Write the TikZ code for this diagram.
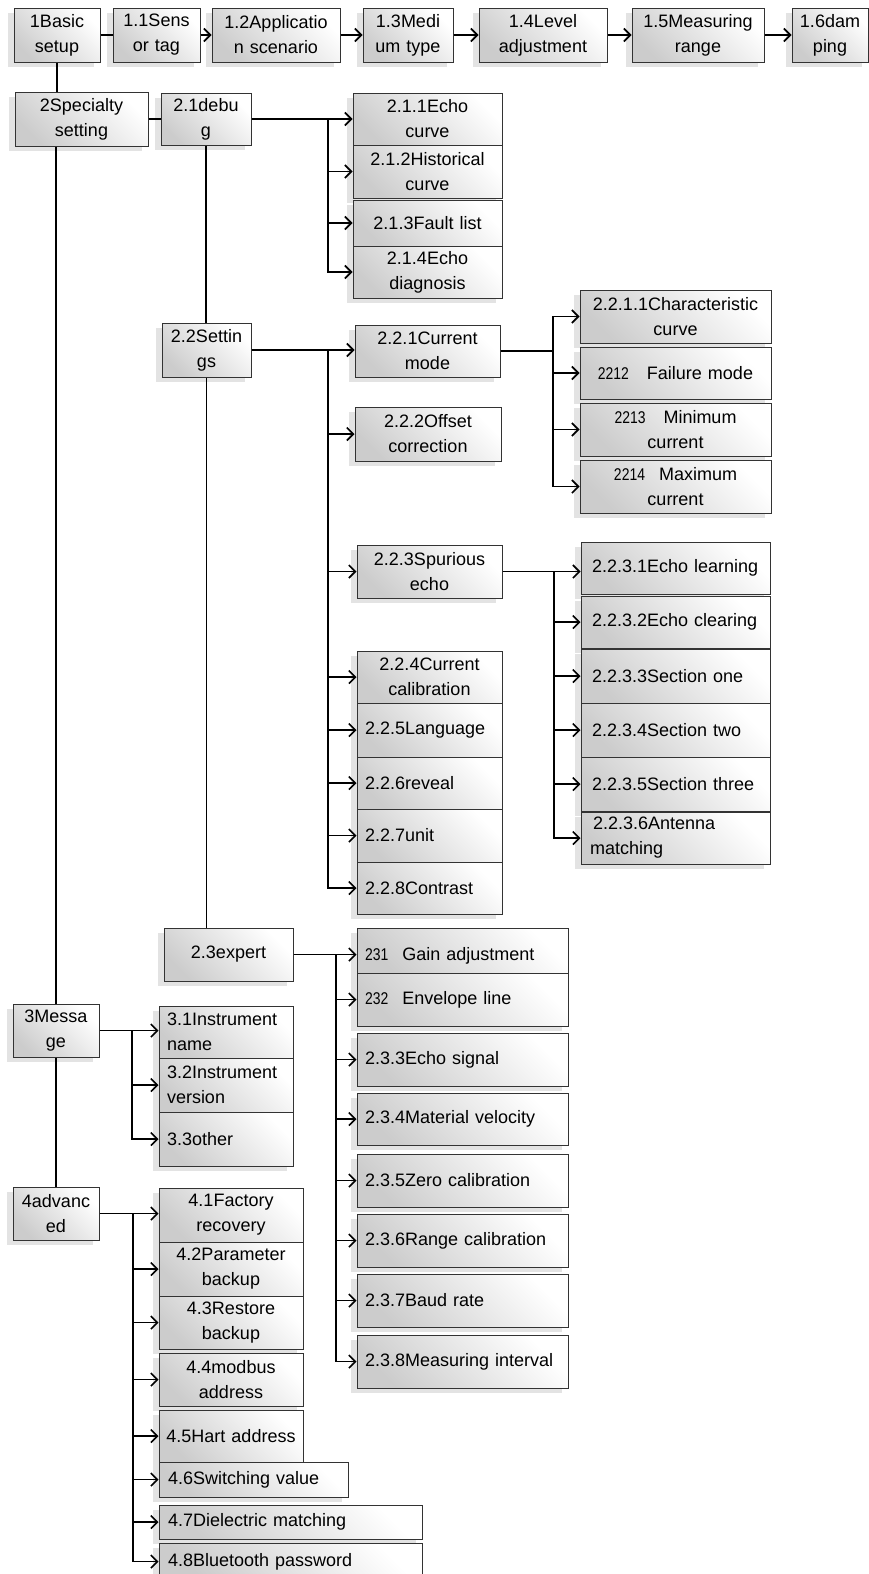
\documentclass[tikz,border=0pt]{standalone}
\usepackage{fontspec}
\setmainfont{Liberation Sans}
\usetikzlibrary{arrows.meta,shadows}
\newcommand\smallnum[1]{{\fontsize{17}{25}\selectfont\scalebox{0.82}[1]{#1}}}
\newcommand\bx[8]{%
  \pgfmathsetmacro\bw{#4-#2}\pgfmathsetmacro\bh{#5-#3}%
  \pgfmathsetmacro\bcx{(#2+#4)/2}\pgfmathsetmacro\bcy{(#3+#5)/2}%
  \pgfmathsetmacro\tw{#4-#2-2*#7}%
  \node[box, align=#6, inner xsep=#7pt, text width=\tw pt, minimum width=\bw pt, minimum height=\bh pt] (#1) at (\bcx,\bcy) {#8};}
\tikzset{
 box/.style={draw=black!80, line width=1pt, left color=gray!40, right color=white, shading angle=135,
   inner ysep=1pt, font=\fontsize{18}{25}\selectfont,
   drop shadow={shadow xshift=-6pt, shadow yshift=-5pt, opacity=1, fill=black!11}},
 ln/.style={line width=1.6pt, draw=black},
 arr/.style={-{Straight Barb[length=6.5pt,width=13pt]}},
}
\begin{document}
\begin{tikzpicture}[x=1pt,y=-1pt]
\fill[white] (0,0) rectangle (868,1574);
\useasboundingbox (0,0) rectangle (868,1574);
% level 1
\bx{n1}{14}{8}{100}{62}{center}{3}{1Basic\\setup}
\bx{n11}{113}{8}{200}{62}{center}{3}{1.1Sens\\or~tag}
\bx{n12}{212}{8}{340}{62}{center}{3}{1.2Applicatio\\n~scenario}
\bx{n13}{363}{8}{453}{62}{center}{3}{1.3Medi\\um~type}
\bx{n14}{479}{8}{607}{62}{center}{3}{1.4Level\\adjustment}
\bx{n15}{632}{8}{764}{62}{center}{3}{1.5Measuring\\range}
\bx{n16}{792}{8}{868}{62}{center}{3}{1.6dam\\ping}
% 2
\bx{n2}{15}{92}{148}{146}{center}{3}{2Specialty\\setting}
\bx{n21}{161}{93}{251}{145}{center}{3}{2.1debu\\g}
\bx{n211}{353}{93}{502}{145}{center}{3}{2.1.1Echo\\curve}
\bx{n212}{353}{145}{502}{198}{center}{3}{2.1.2Historical\\curve}
\bx{n213}{353}{200}{502}{246}{center}{3}{2.1.3Fault~list}
\bx{n214}{353}{246}{502}{298}{center}{3}{2.1.4Echo\\diagnosis}
\bx{n22}{162}{323}{251}{377}{center}{3}{2.2Settin\\gs}
\bx{n221}{355}{325}{500}{377}{center}{3}{2.2.1Current\\mode}
\bx{n222}{355}{407}{501}{461}{center}{3}{2.2.2Offset\\correction}
\bx{n223}{357}{545}{502}{598}{center}{3}{2.2.3Spurious\\echo}
\bx{n224}{357}{651}{502}{703}{center}{3}{2.2.4Current\\calibration}
\bx{n225}{357}{703}{502}{757}{left}{8}{2.2.5Language}
\bx{n226}{357}{757}{502}{809}{left}{8}{2.2.6reveal}
\bx{n227}{357}{809}{502}{862}{left}{8}{2.2.7unit}
\bx{n228}{357}{862}{502}{914}{left}{8}{2.2.8Contrast}
\bx{n2211}{580}{290}{771}{343}{center}{3}{2.2.1.1Characteristic\\curve}
\bx{n2212}{580}{347}{771}{399}{center}{3}{\smallnum{2212}\hspace{18pt}Failure~mode}
\bx{n2213}{580}{403}{771}{456}{center}{3}{\smallnum{2213}\hspace{18pt}Minimum\\current}
\bx{n2214}{580}{460}{771}{513}{center}{3}{\smallnum{2214}\hspace{14pt}Maximum\\current}
\bx{n2231}{581}{542}{770}{594}{left}{11}{2.2.3.1Echo~learning}
\bx{n2232}{581}{596}{770}{648}{left}{11}{2.2.3.2Echo~clearing}
\bx{n2233}{581}{649}{770}{703}{left}{11}{2.2.3.3Section~one}
\bx{n2234}{581}{703}{770}{757}{left}{11}{2.2.3.4Section~two}
\bx{n2235}{581}{757}{770}{811}{left}{11}{2.2.3.5Section~three}
\bx{n2236}{581}{812}{770}{864}{left}{9}{\hspace*{3pt}2.2.3.6Antenna\\matching}
\bx{n23}{164}{928}{293}{981}{center}{3}{2.3expert}
\bx{n231}{357}{928}{568}{973}{left}{8}{\rule{0pt}{23pt}\smallnum{231}\hspace{14pt}Gain~adjustment}
\bx{n232}{357}{973}{568}{1026}{left}{8}{\smallnum{232}\hspace{14pt}Envelope~line}
\bx{n233}{357}{1033}{568}{1086}{left}{8}{2.3.3Echo~signal}
\bx{n234}{357}{1093}{568}{1145}{left}{8}{2.3.4Material~velocity}
\bx{n235}{357}{1154}{568}{1207}{left}{8}{2.3.5Zero~calibration}
\bx{n236}{357}{1214}{568}{1267}{left}{8}{2.3.6Range~calibration}
\bx{n237}{357}{1274}{568}{1327}{left}{8}{2.3.7Baud~rate}
\bx{n238}{357}{1335}{568}{1388}{left}{8}{2.3.8Measuring~interval}
% 3
\bx{n3}{13}{1004}{99}{1057}{center}{3}{3Messa\\ge}
\bx{n31}{159}{1006}{293}{1058}{left}{8}{3.1Instrument\\name}
\bx{n32}{159}{1058}{293}{1112}{left}{8}{3.2Instrument\\version}
\bx{n33}{159}{1112}{293}{1166}{left}{8}{3.3other}
% 4
\bx{n4}{13}{1187}{99}{1240}{center}{3}{4advanc\\ed}
\bx{n41}{159}{1188}{303}{1242}{center}{3}{4.1Factory\\recovery}
\bx{n42}{159}{1242}{303}{1296}{center}{3}{4.2Parameter\\backup}
\bx{n43}{159}{1296}{303}{1349}{center}{3}{4.3Restore\\backup}
\bx{n44}{159}{1353}{303}{1406}{center}{3}{4.4modbus\\address}
\bx{n45}{159}{1410}{303}{1462}{center}{3}{4.5Hart~address}
\bx{n46}{159}{1462}{348}{1497}{left}{9}{4.6Switching~value}
\bx{n47}{159}{1505}{422}{1539}{left}{9}{4.7Dielectric~matching}
\bx{n48}{159}{1543}{422}{1580}{left}{9}{4.8Bluetooth~password}
% bus columns
\coordinate (b21) at (328,0);
\coordinate (b22) at (328,0);
\coordinate (b221) at (553,0);
\coordinate (b223) at (554,0);
\coordinate (b23) at (336,0);
\coordinate (b3) at (132,0);
\coordinate (b4) at (133,0);
% top row
\draw[ln] (n1.east) -- (n11.west);
\draw[ln,arr] (n11.east) -- (n12.west);
\draw[ln,arr] (n12.east) -- (n13.west);
\draw[ln,arr] (n13.east) -- (n14.west);
\draw[ln,arr] (n14.east) -- (n15.west);
\draw[ln,arr] (n15.east) -- (n16.west);
% trunk
\draw[ln] (n1.south) -- (n1.south |- n2.north);
\draw[ln] (n2.east) -- (n21.west);
\draw[ln] (n3.north |- n2.south) -- (n3.north);
\draw[ln] (n3.south) -- (n4.north);
\draw[ln] (n21.south) -- (n21.south |- n22.north);
\draw[ln] (n22.south) -- (n22.south |- n23.north);
% 2.1
\draw[ln] (n21.east) -- (n21.east -| b21);
\draw[ln,arr] (n21.east -| b21) -- (n21.east -| n211.west);
\foreach \c in {n212,n213,n214} \draw[ln,arr] (n21.east -| b21) |- (\c.west);
% 2.2
\draw[ln] (n22.east) -- (n22.east -| b22);
\draw[ln,arr] (n22.east -| b22) -- (n22.east -| n221.west);
\foreach \c in {n222,n223,n224,n225,n226,n227,n228} \draw[ln,arr] (n22.east -| b22) |- (\c.west);
% 2.2.1
\draw[ln] (n221.east) -- (n221.east -| b221);
\foreach \c in {n2211,n2212,n2213,n2214} \draw[ln,arr] (n221.east -| b221) |- (\c.west);
% 2.2.3
\draw[ln] (n223.east) -- (n223.east -| b223);
\draw[ln,arr] (n223.east -| b223) -- (n223.east -| n2231.west);
\foreach \c in {n2232,n2233,n2234,n2235,n2236} \draw[ln,arr] (n223.east -| b223) |- (\c.west);
% 2.3
\draw[ln] (n23.east) -- (n23.east -| b23);
\draw[ln,arr] (n23.east -| b23) -- (n23.east -| n231.west);
\foreach \c in {n232,n233,n234,n235,n236,n237,n238} \draw[ln,arr] (n23.east -| b23) |- (\c.west);
% 3
\draw[ln] (n3.east) -- (n3.east -| b3);
\draw[ln,arr] (n3.east -| b3) -- (n3.east -| n31.west);
\foreach \c in {n32,n33} \draw[ln,arr] (n3.east -| b3) |- (\c.west);
% 4
\draw[ln] (n4.east) -- (n4.east -| b4);
\draw[ln,arr] (n4.east -| b4) -- (n4.east -| n41.west);
\foreach \c in {n42,n43,n44,n45,n46,n47,n48} \draw[ln,arr] (n4.east -| b4) |- (\c.west);
\end{tikzpicture}
\end{document}
